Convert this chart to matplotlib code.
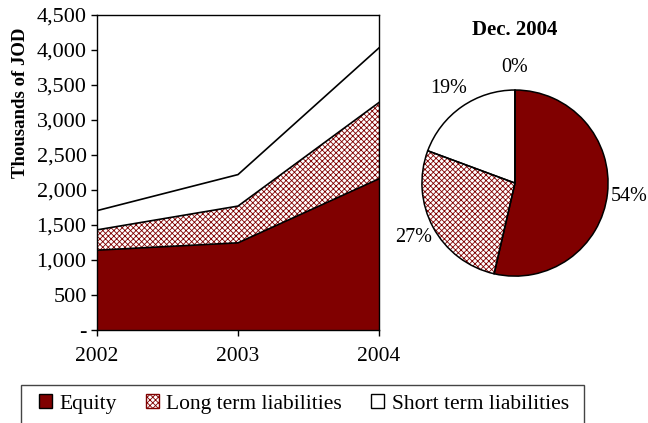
import matplotlib
matplotlib.use('Agg')
import matplotlib.pyplot as plt
from matplotlib.patches import Patch, Rectangle

plt.rcParams['font.family'] = ['Liberation Serif', 'DejaVu Serif']
plt.rcParams['hatch.linewidth'] = 0.6

# data (thousands of JOD)
years = ['2002', '2003', '2004']
equity = [1140, 1245, 2160]
long_term = [290, 525, 1090]
short_term = [275, 450, 780]

pie_labels = ['Equity', 'Long term liabilities', 'Short term liabilities', 'Other']
pie_values = [2160, 1090, 780, 0]

yticks = [0, 500, 1000, 1500, 2000, 2500, 3000, 3500, 4000, 4500]
ytick_labels = ['-', '500', '1,000', '1,500', '2,000', '2,500', '3,000', '3,500', '4,000', '4,500']

DARK_RED = '#800000'

fig = plt.figure(figsize=(6.48, 4.23), dpi=100)

# stacked area chart
ax = fig.add_axes([0.1497, 0.2199, 0.4352, 0.7447])
x = list(range(len(years)))
lvl1 = equity
lvl2 = [a + b for a, b in zip(equity, long_term)]
lvl3 = [a + b for a, b in zip(lvl2, short_term)]

ax.fill_between(x, 0, lvl1, facecolor=DARK_RED, linewidth=0)
ax.fill_between(x, lvl1, lvl2, facecolor='white', edgecolor=DARK_RED, hatch='xxxxxx', linewidth=0)
ax.fill_between(x, lvl2, lvl3, facecolor='white', linewidth=0)
for lvl in (lvl1, lvl2, lvl3):
    ax.plot(x, lvl, color='black', linewidth=1.2)

ax.set_xlim(0, 2)
ax.set_ylim(0, 4500)
ax.set_xticks(x)
ax.set_xticklabels(years, fontsize=15.5)
ax.set_yticks(yticks)
ax.set_yticklabels(ytick_labels, fontsize=16)
ax.tick_params(direction='out', length=4, width=1)
ax.tick_params(axis='x', pad=8)
ax.set_ylabel('Thousands of JOD', fontsize=13.5, fontweight='bold')
ax.yaxis.set_label_coords(-0.24, 0.72)
for s in ax.spines.values():
    s.set_linewidth(1)

# pie chart
pax = fig.add_axes([0.6497, 0.345, 0.2901, 0.4444])
colors = [DARK_RED, 'white', 'white', 'white']
hatches = ['', 'xxxxxx', '', '']
wedges, texts, autotexts = pax.pie(
    pie_values, colors=colors, startangle=90, counterclock=False,
    autopct='%1.0f%%', pctdistance=1.24,
    wedgeprops=dict(linewidth=0),
    textprops=dict(fontsize=14.5))
for w, h in zip(wedges, hatches):
    if h:
        w.set_hatch(h)
        w.set_edgecolor(DARK_RED)
        w.set_linewidth(0)
# black outlines on top
pax.pie(pie_values, colors=['none'] * 4, startangle=90, counterclock=False,
        wedgeprops=dict(linewidth=1.1, edgecolor='black', fill=False))
pax.set_aspect('equal')
pax.set_xlim(-1.01, 1.01)
pax.set_ylim(-1.01, 1.01)
fig.text(0.795, 0.93, 'Dec. 2004', ha='center', va='center', fontsize=15, fontweight='bold')

# legend
fig.add_artist(Rectangle((21 / 648, -0.05), (584 - 21) / 648, 0.05 + (423 - 385) / 423,
                         transform=fig.transFigure, fill=False, edgecolor='#444444', linewidth=1))
handles = [
    Patch(facecolor=DARK_RED, edgecolor='black', linewidth=1),
    Patch(facecolor='white', edgecolor=DARK_RED, hatch='xxxxxx', linewidth=1),
    Patch(facecolor='white', edgecolor='black', linewidth=1),
]
fig.legend(handles, pie_labels[:3], ncol=3, loc='center left', bbox_to_anchor=(39 / 648, 1 - 404 / 423),
           frameon=False, fontsize=15.5, handlelength=0.6, handleheight=0.6, borderpad=0,
           borderaxespad=0, handletextpad=0.35, columnspacing=1.35)

fig.savefig('out.png', dpi=100)
